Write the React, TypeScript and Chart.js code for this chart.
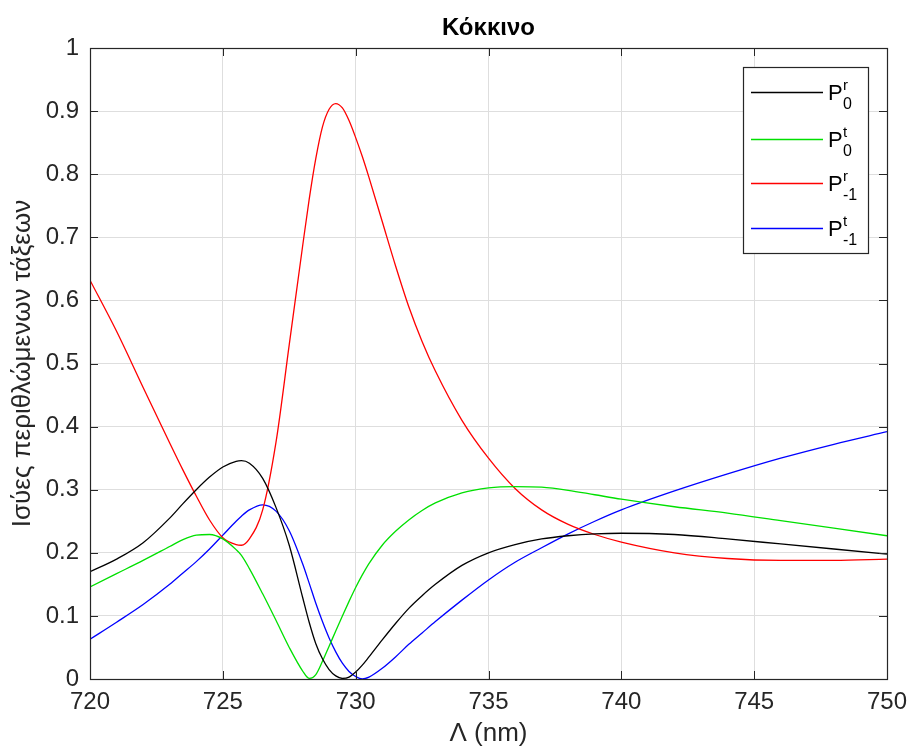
import React, { useEffect, useRef } from 'react';
import { Chart, registerables } from 'chart.js';

Chart.register(...registerables);

// ---------- data ----------
const wavelengths = [720, 721, 722, 723, 723.5, 724, 724.5, 725, 725.5, 725.7, 726, 726.5, 727, 727.5, 728, 728.25, 728.5, 728.75, 729, 729.25, 729.5, 729.75, 730, 730.25, 730.5, 731, 731.5, 732, 732.5, 733, 734, 735, 736, 737, 738, 739, 740, 742, 744, 746, 748, 750];

const P0r = [0.170, 0.190, 0.216, 0.255, 0.278, 0.300, 0.320, 0.336, 0.345, 0.346, 0.342, 0.318, 0.272, 0.212, 0.130, 0.090, 0.056, 0.032, 0.015, 0.005, 0.001, 0.003, 0.011, 0.022, 0.035, 0.062, 0.088, 0.112, 0.132, 0.150, 0.180, 0.200, 0.213, 0.222, 0.227, 0.230, 0.231, 0.229, 0.222, 0.214, 0.206, 0.198];

const P0t = [0.146, 0.167, 0.188, 0.210, 0.221, 0.228, 0.229, 0.222, 0.205, 0.196, 0.175, 0.135, 0.093, 0.050, 0.013, 0.001, 0.007, 0.028, 0.052, 0.076, 0.100, 0.123, 0.145, 0.165, 0.183, 0.212, 0.234, 0.252, 0.267, 0.279, 0.295, 0.303, 0.305, 0.304, 0.299, 0.292, 0.285, 0.273, 0.263, 0.251, 0.239, 0.227];

const Pm1r = [0.632, 0.551, 0.462, 0.374, 0.331, 0.290, 0.252, 0.224, 0.213, 0.212, 0.222, 0.268, 0.375, 0.530, 0.685, 0.760, 0.825, 0.875, 0.903, 0.912, 0.905, 0.885, 0.858, 0.828, 0.795, 0.725, 0.655, 0.590, 0.535, 0.488, 0.410, 0.350, 0.302, 0.268, 0.245, 0.229, 0.217, 0.200, 0.191, 0.188, 0.188, 0.190];

const Pm1t = [0.063, 0.090, 0.118, 0.150, 0.168, 0.186, 0.206, 0.228, 0.250, 0.258, 0.268, 0.276, 0.266, 0.235, 0.183, 0.152, 0.120, 0.091, 0.065, 0.043, 0.025, 0.012, 0.004, 0.000, 0.003, 0.017, 0.035, 0.055, 0.073, 0.091, 0.125, 0.157, 0.185, 0.208, 0.230, 0.250, 0.268, 0.298, 0.325, 0.350, 0.372, 0.392];

const xTicks = [720, 725, 730, 735, 740, 745, 750];
const xTickLabels = ['720', '725', '730', '735', '740', '745', '750'];
const yTicks = [0, 0.1, 0.2, 0.3, 0.4, 0.5, 0.6, 0.7, 0.8, 0.9, 1];
const yTickLabels = ['0', '0.1', '0.2', '0.3', '0.4', '0.5', '0.6', '0.7', '0.8', '0.9', '1'];

const titleText = 'Κόκκινο';
const xTitle = 'Λ (nm)';
const yTitle = 'Ισύες περιθλώμενων τάξεων';

const seriesSup = ['r', 't', 'r', 't'];
const seriesSub = ['0', '0', '-1', '-1'];

// ---------- styles ----------
const seriesColors = ['#000000', '#00e000', '#ff0000', '#0000ff'];
const FONT = "'Liberation Sans', Arial, sans-serif";
const AXIS = '#262626';
const GRID = '#dedede';

const framePlugin = {
  id: 'frame',
  afterDraw(chart: any) {
    const { ctx, chartArea } = chart;
    const { left, right, top, bottom } = chartArea;
    const xs = chart.scales.x;
    const ys = chart.scales.y;
    ctx.save();
    ctx.strokeStyle = AXIS;
    ctx.lineWidth = 1.2;
    ctx.strokeRect(Math.round(left) + 0.5, Math.round(top) + 0.5, Math.round(right - left), Math.round(bottom - top));
    const tl = 8;
    ctx.lineWidth = 1;
    ctx.beginPath();
    xTicks.forEach((v) => {
      const px = Math.round(xs.getPixelForValue(v)) + 0.5;
      ctx.moveTo(px, bottom); ctx.lineTo(px, bottom - tl);
      ctx.moveTo(px, top); ctx.lineTo(px, top + tl);
    });
    yTicks.forEach((v) => {
      const py = Math.round(ys.getPixelForValue(v)) + 0.5;
      ctx.moveTo(left, py); ctx.lineTo(left + tl, py);
      ctx.moveTo(right, py); ctx.lineTo(right - tl, py);
    });
    ctx.stroke();

    // title
    ctx.fillStyle = '#000000';
    ctx.font = `bold 24px ${FONT}`;
    ctx.textAlign = 'center';
    ctx.textBaseline = 'alphabetic';
    ctx.fillText(titleText, (left + right) / 2, 35);

    // legend
    const bx = 743.5, by = 67.5, bw = 125, bh = 186;
    ctx.fillStyle = '#ffffff';
    ctx.fillRect(bx, by, bw, bh);
    ctx.strokeStyle = AXIS;
    ctx.lineWidth = 1.2;
    ctx.strokeRect(bx, by, bw, bh);
    const rowY = [92, 139, 183, 228];
    seriesColors.forEach((c, i) => {
      const y = rowY[i];
      ctx.strokeStyle = c;
      ctx.lineWidth = 1.3;
      ctx.beginPath();
      ctx.moveTo(751, y + 0.5);
      ctx.lineTo(823, y + 0.5);
      ctx.stroke();
      ctx.fillStyle = '#000000';
      ctx.textAlign = 'left';
      ctx.textBaseline = 'alphabetic';
      ctx.font = `22px ${FONT}`;
      ctx.fillText('P', 828, y + 8);
      ctx.font = `15px ${FONT}`;
      ctx.fillText(seriesSup[i], 843, y - 2);
      ctx.font = `16px ${FONT}`;
      ctx.fillText(seriesSub[i], 843, y + 17);
    });
    ctx.restore();
  },
};

export default function App() {
  const canvasRef = useRef<HTMLCanvasElement | null>(null);

  useEffect(() => {
    document.body.style.margin = '0';
    const canvas = canvasRef.current;
    if (!canvas) return;
    const series = [P0r, P0t, Pm1r, Pm1t];
    const chart = new Chart(canvas, {
      type: 'line',
      data: {
        datasets: series.map((s, i) => ({
          label: `P${seriesSup[i]}${seriesSub[i]}`,
          data: wavelengths.map((x, j) => ({ x, y: s[j] })),
          borderColor: seriesColors[i],
          backgroundColor: seriesColors[i],
          borderWidth: 1.3,
          pointRadius: 0,
          cubicInterpolationMode: 'monotone' as const,
          fill: false,
        })),
      },
      options: {
        responsive: false,
        animation: false,
        devicePixelRatio: 1,
        layout: { padding: { top: 48, right: 24, bottom: 0, left: 0 } },
        plugins: {
          legend: { display: false },
          title: { display: false },
          tooltip: { enabled: false },
        },
        scales: {
          x: {
            type: 'linear',
            min: 720,
            max: 750,
            afterBuildTicks: (s: any) => { s.ticks = xTicks.map((v) => ({ value: v })); },
            afterFit: (s: any) => { s.height = 72; s.paddingLeft = 0; s.paddingRight = 0; },
            ticks: {
              autoSkip: false,
              maxRotation: 0,
              padding: 9,
              color: AXIS,
              font: { family: FONT, size: 24 },
              callback: (v: any) => { const k = xTicks.indexOf(Number(v)); return k >= 0 ? xTickLabels[k] : ''; },
            },
            grid: { color: GRID, drawTicks: false, lineWidth: 1 },
            border: { display: false },
            title: { display: true, text: xTitle, color: AXIS, font: { family: FONT, size: 26 }, padding: { top: 0, bottom: 2 } },
          },
          y: {
            type: 'linear',
            min: 0,
            max: 1,
            afterBuildTicks: (s: any) => { s.ticks = yTicks.map((v) => ({ value: v })); },
            afterFit: (s: any) => { s.width = 90; s.paddingTop = 0; s.paddingBottom = 0; },
            ticks: {
              autoSkip: false,
              padding: 11,
              color: AXIS,
              font: { family: FONT, size: 24 },
              callback: (v: any) => {
                const k = yTicks.findIndex((t) => Math.abs(t - Number(v)) < 1e-9);
                return k >= 0 ? yTickLabels[k] : '';
              },
            },
            grid: { color: GRID, drawTicks: false, lineWidth: 1 },
            border: { display: false },
            title: { display: true, text: yTitle, color: AXIS, font: { family: FONT, size: 26 }, padding: { top: 7, bottom: 0 } },
          },
        },
      },
      plugins: [framePlugin],
    });
    return () => chart.destroy();
  }, []);

  return (
    <div style={{ width: 911, height: 751, background: '#ffffff' }}>
      <canvas ref={canvasRef} width={911} height={751} style={{ display: 'block' }} />
    </div>
  );
}
